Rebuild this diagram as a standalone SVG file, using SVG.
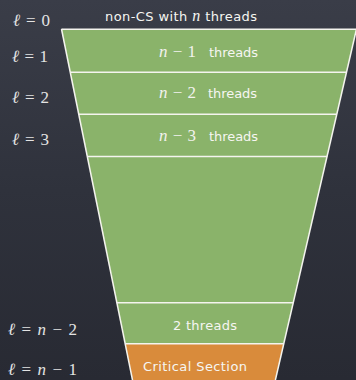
<svg xmlns="http://www.w3.org/2000/svg" width="356" height="380" viewBox="0 0 356 380">
<defs>
<linearGradient id="bg" x1="0" y1="0" x2="0" y2="1">
<stop offset="0" stop-color="#3a3d48"/>
<stop offset="0.5" stop-color="#2f323c"/>
<stop offset="1" stop-color="#282a33"/>
</linearGradient>
<style>
.lv{font-family:"Liberation Serif",serif;font-size:17px;fill:#e4e4e4}
.lv .it{font-style:italic}
.lb{font-family:"DejaVu Sans","Noto Sans",sans-serif;font-size:13px;fill:#f6f6f2}
.m{font-family:"Liberation Serif",serif;font-size:17px;fill:#f2f2ee}
.mi{font-family:"Liberation Serif",serif;font-style:italic}
.div{stroke:#f4f4ee;stroke-width:1.5;fill:none}
</style>
</defs>
<rect width="356" height="380" fill="url(#bg)"/>
<g id="funnel">
<polygon points="61.5,29 356.5,29 283.6,344 125.3,344" fill="#8ab36a"/>
<polygon points="125.3,344 283.6,344 275.4,380 132.5,380" fill="#d98b3b"/>
</g>
<g id="connectors">
<line class="div" x1="61.5" y1="29.3" x2="356" y2="29.3"/>
<line class="div" x1="70.2" y1="72.3" x2="346.6" y2="72.3"/>
<line class="div" x1="78.6" y1="114.3" x2="336.9" y2="114.3"/>
<line class="div" x1="87.2" y1="156.5" x2="327.2" y2="156.5"/>
<line class="div" x1="116.8" y1="302.7" x2="293.2" y2="302.7"/>
<line class="div" x1="125.3" y1="343.8" x2="283.6" y2="343.8"/>
<line class="div" x1="61.5" y1="29" x2="132.5" y2="380"/>
<line class="div" x1="356.5" y1="29" x2="275.4" y2="380"/>
</g>
<g id="level0">
<text class="lv" x="13" y="25.5" textLength="37" lengthAdjust="spacing"><tspan class="it">ℓ</tspan> = 0</text>
<text class="lb" x="105" y="21" textLength="152" lengthAdjust="spacing">non-CS with <tspan class="mi" font-size="16">n</tspan> threads</text>
</g>
<g id="level1">
<text class="lv" x="12" y="62" textLength="36" lengthAdjust="spacing"><tspan class="it">ℓ</tspan> = 1</text>
<text x="159" y="57" class="m" textLength="37" lengthAdjust="spacing"><tspan class="mi">n</tspan> − 1</text>
<text class="lb" x="209" y="57" textLength="49" lengthAdjust="spacing">threads</text>
</g>
<g id="level2">
<text class="lv" x="12" y="102.5" textLength="37" lengthAdjust="spacing"><tspan class="it">ℓ</tspan> = 2</text>
<text x="159" y="97.5" class="m" textLength="37" lengthAdjust="spacing"><tspan class="mi">n</tspan> − 2</text>
<text class="lb" x="208" y="97.5" textLength="49" lengthAdjust="spacing">threads</text>
</g>
<g id="level3">
<text class="lv" x="12" y="145" textLength="37" lengthAdjust="spacing"><tspan class="it">ℓ</tspan> = 3</text>
<text x="159" y="140.5" class="m" textLength="37" lengthAdjust="spacing"><tspan class="mi">n</tspan> − 3</text>
<text class="lb" x="209" y="140.5" textLength="49" lengthAdjust="spacing">threads</text>
</g>
<g id="levelN2">
<text class="lv" x="8" y="335" textLength="69" lengthAdjust="spacing"><tspan class="it">ℓ</tspan> = <tspan class="it">n</tspan> − 2</text>
<text class="lb" x="173" y="329.5" textLength="64" lengthAdjust="spacing">2 threads</text>
</g>
<g id="levelN1">
<text class="lv" x="8" y="375" textLength="69" lengthAdjust="spacing"><tspan class="it">ℓ</tspan> = <tspan class="it">n</tspan> − 1</text>
<text class="lb" x="143" y="371" font-size="14" textLength="104" lengthAdjust="spacing">Critical Section</text>
</g>
</svg>
